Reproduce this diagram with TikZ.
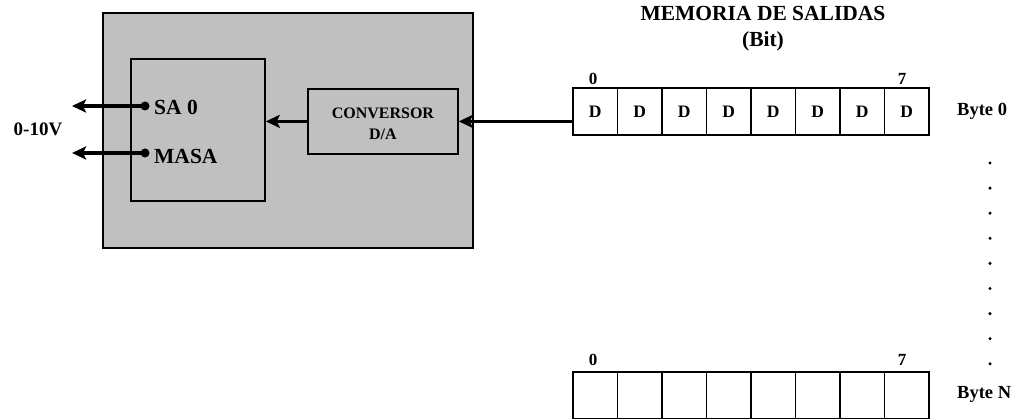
\documentclass[tikz,border=0pt]{standalone}
\usepackage{fontspec}
\setmainfont{Liberation Serif}
\usetikzlibrary{arrows.meta}
\definecolor{panelgray}{RGB}{192,192,192}
\tikzset{
  box/.style={draw=black, line width=1.8pt},
  cell/.style={draw=black, line width=1.8pt, minimum width=44.5pt, minimum height=47pt,
               inner sep=0pt, font=\fontsize{17.5}{17.5}\bfseries\selectfont},
  sig/.style={line width=3.2pt, -{Stealth[length=14pt,width=13pt,inset=3pt]}},
  lbl/.style={inner sep=0pt, font=\fontsize{21.5}{21.5}\bfseries\selectfont},
  idx/.style={inner sep=0pt, font=\fontsize{17}{17}\bfseries\selectfont},
  bytelbl/.style={inner sep=0pt, anchor=west, font=\fontsize{18.5}{18.5}\bfseries\selectfont},
  pin/.style={circle, fill=black, inner sep=0pt, minimum size=9pt},
  vdot/.style={circle, fill=black, inner sep=0pt, minimum size=3.4pt}
}
\begin{document}
\begin{tikzpicture}[x=1pt,y=-1pt]
\useasboundingbox (0,0) rectangle (1020,419);

% analog output module
\node[box, fill=panelgray, minimum width=370pt, minimum height=235pt, anchor=north west]
  (module) at (102,12) {};
\node[box, minimum width=134pt, minimum height=142pt, anchor=north west]
  (outblock) at (130,58) {};
\node[box, minimum width=150pt, minimum height=65pt, anchor=north west]
  (conv) at (307,88) {};
\node[inner sep=0pt, align=center, font=\fontsize{16}{21}\bfseries\selectfont]
  (convtxt) at ([yshift=-2pt]conv.center) {CONVERSOR\\D/A};

% output terminals
\node[pin] (sa0) at (145,106) {};
\node[pin] (masa) at (145,153) {};
\node[lbl, anchor=west] (sa0lbl) at (154,107) {SA 0};
\node[lbl, anchor=west] (masalbl) at (154,156) {MASA};
\coordinate (sa0out) at (72,106);
\coordinate (masaout) at (72,153);
\node[inner sep=0pt, font=\fontsize{19}{19}\bfseries\selectfont] (range) at (38,129) {0-10V};

% output memory
\node[inner sep=0pt, align=center, font=\fontsize{21.5}{26}\bfseries\selectfont]
  (title) at (763,29) {MEMORIA DE SALIDAS\\(Bit)};

\foreach \i in {0,...,7} {
  \node[cell] (a\i) at ({573+22.25+44.5*\i},111.5) {D};
  \node[cell] (n\i) at ({573+22.25+44.5*\i},395.5) {};
}
\node[idx] (a0idx) at (593,79) {0};
\node[idx] (a7idx) at (902,79) {7};
\node[idx] (n0idx) at (593,360) {0};
\node[idx] (n7idx) at (902,360) {7};
\node[bytelbl] (byte0) at (957,111) {Byte 0};
\node[bytelbl] (byteN) at (957,394) {Byte N};

\foreach \k in {0,...,8} {
  \node[vdot] (d\k) at (990,{163+25.1*\k}) {};
}

% signal path
\draw[sig] (a0.west |- conv.east) -- (conv.east);
\draw[sig] (conv.west) -- (outblock.east |- conv.west);
\draw[sig] (sa0.center) -- (sa0out);
\draw[sig] (masa.center) -- (masaout);
\end{tikzpicture}
\end{document}
